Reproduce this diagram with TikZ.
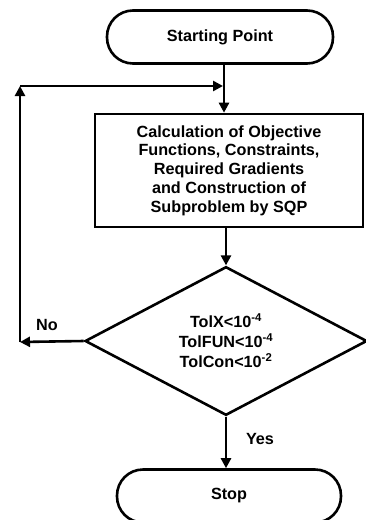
\documentclass[tikz,border=0pt]{standalone}
\usepackage{fontspec}
\setmainfont{Liberation Sans}
\usetikzlibrary{arrows.meta,shapes.geometric}
\begin{document}
\begin{tikzpicture}[x=1pt,y=-1pt, line width=2.6pt,
  term/.style={draw, rounded corners=26pt, minimum width=226pt, minimum height=53pt,
    font=\bfseries\fontsize{16.2}{18.7}\selectfont, inner sep=0pt},
  procbox/.style={draw, rectangle, minimum width=268pt, minimum height=113pt, align=center,
    font=\bfseries\fontsize{16.2}{18.7}\selectfont, inner sep=0pt},
  decision/.style={draw, diamond, minimum width=282pt, minimum height=142pt, align=center,
    font=\bfseries\fontsize{16.2}{20}\selectfont, inner sep=0pt},
  lbl/.style={font=\bfseries\fontsize{16.2}{18.7}\selectfont, inner sep=0pt},
  arr/.style={-{Triangle[length=10pt,width=10pt]}, line width=2.6pt}
]
\useasboundingbox (0,0) rectangle (366,520);
\clip (0,0) rectangle (366,520);
\node[term] (start) at (220,37) {Starting Point};
\node[procbox] (calc) at (229,170.5) {Calculation of Objective\\Functions, Constraints,\\Required Gradients\\and Construction of\\Subproblem by SQP};
\node[decision] (dec) at (226,341) {TolX<10\textsuperscript{-4}\\TolFUN<10\textsuperscript{-4}\\TolCon<10\textsuperscript{-2}};
\node[term, minimum width=224pt] (stop) at (229,496) {Stop};
\coordinate (j) at (224,86);
\coordinate (fbT) at (20,86);
\coordinate (fbB) at (20,342);
\node[lbl] (no) at (47,325) {No};
\node[lbl] (yes) at (260,439) {Yes};
\draw[arr] (start.south -| j) -- (calc.north -| j);
\draw[arr] (dec.west) -- (fbB);
\draw[arr] (fbB) -- (fbT);
\draw[arr, shorten >=1pt] (fbT) -- (j);
\draw[arr] (calc.south -| dec.north) -- (dec.north);
\draw[arr] (dec.south) -- (stop.north -| dec.south);
\end{tikzpicture}
\end{document}
